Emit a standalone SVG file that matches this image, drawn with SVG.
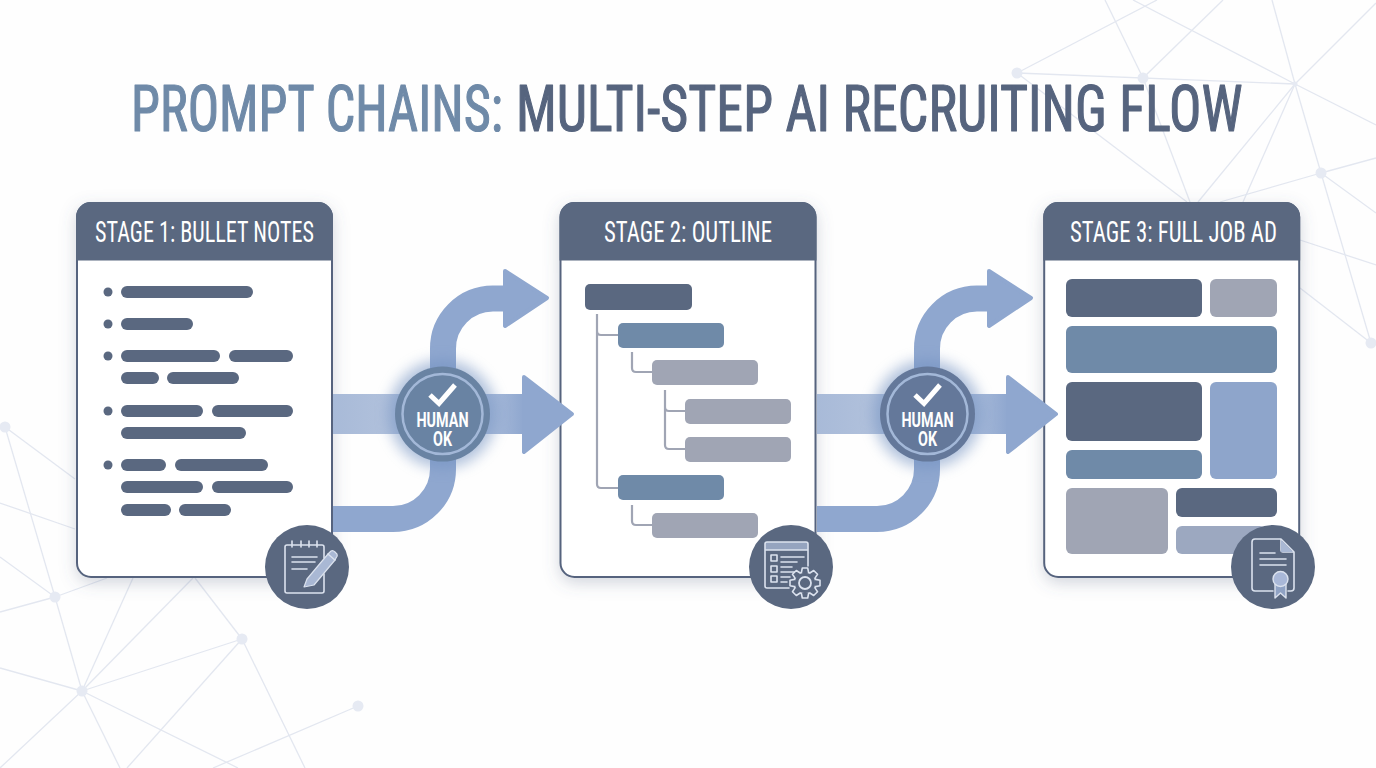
<svg xmlns="http://www.w3.org/2000/svg" width="1376" height="768" viewBox="0 0 1376 768">
<style>
.net line{stroke:#e3e7f0;stroke-width:1.3}
.net circle{fill:#e6eaf3}
.title{font-family:"Liberation Sans Narrow","Roboto Condensed",Roboto,"Liberation Sans",sans-serif;font-size:64px;font-weight:400;stroke-width:1.2;stroke-linejoin:round}
.hd{font-family:"Liberation Sans Narrow","Roboto Condensed",Roboto,"Liberation Sans",sans-serif;font-size:29px;fill:#fff;text-anchor:middle}
.ok{font-family:"Liberation Sans Narrow",Roboto,"Liberation Sans",sans-serif;font-size:21px;font-weight:700;fill:#fff;text-anchor:middle}
.body{fill:#fff;stroke:#56647e;stroke-width:2}
.head{fill:#5a6880}
.d{fill:#5a6880}.b{fill:#6f8aa8}.g{fill:#a0a5b4}.l{fill:#8ea5cb}
.tree{fill:none;stroke:#a0a5b4;stroke-width:2.2;stroke-linejoin:round}
.band{fill:none;stroke:#8fa7cf;stroke-width:26}
.head-a{fill:#8fa7cf;stroke:#8fa7cf;stroke-width:4;stroke-linejoin:round}
.ic{fill:none;stroke:#dbe2ee;stroke-width:1.6;stroke-linecap:round;stroke-linejoin:round}
.icl{fill:#a9b8d4}
.ring{fill:none;stroke:#a3b8d8;stroke-width:2.5}
.chk{fill:none;stroke:#fff;stroke-width:5}
.tooth{fill:#5a6880}
</style>
<defs>
<filter id="sh" x="-15%" y="-15%" width="130%" height="130%"><feDropShadow dx="0" dy="5" stdDeviation="8" flood-color="#56647e" flood-opacity=".26"/></filter>
<filter id="glow" x="-50%" y="-50%" width="200%" height="200%"><feGaussianBlur stdDeviation="7"/></filter>
<linearGradient id="fadeL"><stop offset="0" stop-color="#a8bad8"/><stop offset="1" stop-color="#b6c5de"/></linearGradient>
<linearGradient id="fadeR"><stop offset="0" stop-color="#b9c8e1"/><stop offset="1" stop-color="#8fa7cf"/></linearGradient>
<linearGradient id="fade3" x1="1176" y1="0" x2="1266" y2="0" gradientUnits="userSpaceOnUse"><stop offset="0" stop-color="#9ca8c0"/><stop offset="1" stop-color="#b4bfd6"/></linearGradient>
<g id="cardbase"><rect class="body" x="1" y="0" width="255" height="374" rx="14"/><path class="head" d="M0,57.500V14A15,15 0 0 1 15,-1H242A15,15 0 0 1 257,14V57.500Z"/></g>
<g id="flow">
<path class="band" d="M333,519H393A50,50 0 0 0 443,469V414"/>
<path class="band" d="M443,414V349A50,50 0 0 1 493,298.500H510"/>
<rect x="333" y="394" width="90" height="40" fill="url(#fadeL)"/>
<rect x="470" y="394" width="54" height="40" fill="url(#fadeR)"/>
<path class="head-a" d="M505,271L547,298L505,326Z"/>
<path class="head-a" d="M524,377L572,414L524,452Z"/>
</g>
<g id="human">
<circle r="40" class="ring"/>
<path class="chk" d="M-12.500,-19L-3.500,-10.500L12.500,-29"/>
<text class="ok"><tspan x="0" y="13" textLength="52" lengthAdjust="spacingAndGlyphs">HUMAN</tspan><tspan x="0" y="31.500" textLength="19" lengthAdjust="spacingAndGlyphs">OK</tspan></text>
</g>
<g id="tooth"><path class="tooth" d="M-3.600,-9.500L-2.700,-15H2.700L3.600,-9.500Z"/><path class="ic" d="M-3.600,-10.500L-2.700,-15H2.700L3.600,-10.500"/></g>
</defs>
<rect width="1376" height="768" fill="#fefefe"/>
<g id="background" class="net">
<line x1="1017" y1="73" x2="1157" y2="0"/><line x1="1017" y1="73" x2="1295" y2="84"/><line x1="1017" y1="73" x2="1187" y2="202"/>
<line x1="1105" y1="0" x2="1143" y2="78"/><line x1="1143" y1="78" x2="1190" y2="202"/><line x1="1143" y1="78" x2="1223" y2="0"/>
<line x1="1133" y1="0" x2="1295" y2="84"/><line x1="1295" y1="84" x2="1376" y2="125"/><line x1="1272" y1="0" x2="1295" y2="84"/><line x1="1295" y1="84" x2="1321" y2="173"/><line x1="1321" y1="173" x2="1371" y2="343"/>
<line x1="1376" y1="3" x2="1295" y2="84"/><line x1="1295" y1="84" x2="1198" y2="202"/><line x1="1295" y1="84" x2="1243" y2="202"/>
<line x1="1321" y1="173" x2="1220" y2="202"/><line x1="1321" y1="173" x2="1376" y2="158"/><line x1="1321" y1="173" x2="1376" y2="213"/>
<line x1="1300" y1="240" x2="1376" y2="265"/><line x1="1300" y1="288" x2="1371" y2="343"/>
<line x1="5" y1="427" x2="75" y2="479"/><line x1="5" y1="427" x2="55" y2="597"/><line x1="55" y1="597" x2="82" y2="691"/>
<line x1="0" y1="503" x2="75" y2="529"/><line x1="0" y1="557" x2="55" y2="597"/><line x1="0" y1="612" x2="55" y2="597"/><line x1="55" y1="597" x2="107" y2="578"/>
<line x1="82" y1="691" x2="133" y2="578"/><line x1="82" y1="691" x2="193" y2="578"/><line x1="82" y1="691" x2="242" y2="639"/><line x1="0" y1="668" x2="82" y2="691"/>
<line x1="82" y1="691" x2="0" y2="768"/><line x1="82" y1="691" x2="120" y2="768"/><line x1="82" y1="691" x2="238" y2="768"/>
<line x1="242" y1="639" x2="127" y2="768"/><line x1="242" y1="639" x2="195" y2="578"/><line x1="242" y1="639" x2="305" y2="768"/><line x1="358" y1="706" x2="213" y2="768"/>
<circle cx="1017" cy="73" r="5.500"/><circle cx="1143" cy="78" r="5.500"/><circle cx="1295" cy="84" r="2.500"/><circle cx="1321" cy="173" r="5.500"/><circle cx="1371" cy="343" r="5.500"/>
<circle cx="5" cy="427" r="5.500"/><circle cx="55" cy="597" r="5.500"/><circle cx="82" cy="691" r="5.500"/><circle cx="242" cy="639" r="5.500"/><circle cx="358" cy="706" r="5.500"/>
</g>
<g id="title">
<text class="title" transform="translate(131,131) scale(.8165,1)" fill="#6f8aa8" stroke="#6f8aa8">PROMPT CHAINS:</text>
<text class="title" transform="translate(516,131) scale(.8427,1)" fill="#56647e" stroke="#56647e">MULTI-STEP AI RECRUITING FLOW</text>
</g>
<g id="stage1" transform="translate(76,203)">
<g filter="url(#sh)"><use href="#cardbase"/></g>
<text class="hd" x="128.500" y="39" textLength="219" lengthAdjust="spacingAndGlyphs">STAGE 1: BULLET NOTES</text>
<g class="d">
<circle cx="32" cy="89" r="4.500"/><circle cx="32" cy="121" r="4.500"/><circle cx="32" cy="153" r="4.500"/><circle cx="32" cy="208" r="4.500"/><circle cx="32" cy="262" r="4.500"/>
<rect x="45" y="83" width="132" height="12" rx="6"/><rect x="45" y="115" width="72" height="12" rx="6"/>
<rect x="45" y="147" width="99" height="12" rx="6"/><rect x="153" y="147" width="64" height="12" rx="6"/>
<rect x="45" y="169" width="38" height="12" rx="6"/><rect x="91" y="169" width="72" height="12" rx="6"/>
<rect x="45" y="202" width="82" height="12" rx="6"/><rect x="136" y="202" width="81" height="12" rx="6"/>
<rect x="45" y="224" width="125" height="12" rx="6"/>
<rect x="45" y="256" width="45" height="12" rx="6"/><rect x="99" y="256" width="93" height="12" rx="6"/>
<rect x="45" y="278" width="82" height="12" rx="6"/><rect x="136" y="278" width="81" height="12" rx="6"/>
<rect x="45" y="301" width="50" height="12" rx="6"/><rect x="103" y="301" width="52" height="12" rx="6"/>
</g>
</g>
<g id="stage2" transform="translate(560,203)">
<g filter="url(#sh)"><use href="#cardbase" x="-0.500"/></g>
<text class="hd" x="128" y="39" textLength="168" lengthAdjust="spacingAndGlyphs">STAGE 2: OUTLINE</text>
<path class="tree" d="M37,111V281Q37,285 41,285H58M37,128Q37,132 41,132H58M72,149V165Q72,169 76,169H92M105,187V242Q105,246 109,246H125M105,204Q105,208 109,208H125M72,302V318Q72,322 76,322H92"/>
<rect class="d" x="25" y="81" width="107" height="26" rx="5"/>
<rect class="b" x="58" y="120" width="106" height="25" rx="5"/>
<rect class="g" x="92" y="157" width="106" height="25" rx="5"/>
<rect class="g" x="125" y="196" width="106" height="25" rx="5"/>
<rect class="g" x="125" y="234" width="106" height="25" rx="5"/>
<rect class="b" x="58" y="272" width="106" height="25" rx="5"/>
<rect class="g" x="92" y="310" width="106" height="25" rx="5"/>
</g>
<g id="stage3" transform="translate(1044,203)">
<g filter="url(#sh)"><use href="#cardbase" x="-0.800"/></g>
<text class="hd" x="129.500" y="39" textLength="207" lengthAdjust="spacingAndGlyphs">STAGE 3: FULL JOB AD</text>
<rect class="d" x="22" y="76" width="136" height="38" rx="6"/>
<rect class="g" x="166" y="76" width="67" height="38" rx="6"/>
<rect class="b" x="22" y="123" width="211" height="47" rx="6"/>
<rect class="d" x="22" y="179" width="136" height="59" rx="6"/>
<rect class="l" x="166" y="179" width="67" height="97" rx="6"/>
<rect class="b" x="22" y="247" width="136" height="29" rx="6"/>
<rect class="g" x="22" y="285" width="102" height="66" rx="6"/>
<rect class="d" x="132" y="285" width="101" height="29" rx="6"/>
<rect x="132" y="323" width="90" height="28" rx="6" fill="url(#fade3)"/>
</g>
<g id="connectors">
<use href="#flow"/>
<use href="#flow" x="484"/>
</g>
<g id="gate1" transform="translate(442.500,414)">
<circle r="54" fill="#6f8fc0" opacity=".55" filter="url(#glow)"/>
<circle r="47.500" fill="#6983a3"/>
<use href="#human"/>
</g>
<g id="gate2" transform="translate(927.500,414)">
<circle r="54" fill="#6f8fc0" opacity=".55" filter="url(#glow)"/>
<circle r="47.500" fill="#64789a"/>
<use href="#human"/>
</g>
<g id="icon-notes" transform="translate(307,567)">
<circle r="42" fill="#5a6880"/>
<path class="ic" d="M17,-9V-20A2,2 0 0 0 15,-22H-20A2,2 0 0 0 -22,-20V24A2,2 0 0 0 -20,26H15A2,2 0 0 0 17,24V7M-15,-26V-20M-6,-26V-20M2,-26V-20M10,-26V-20M-15,-10H10M-15,-5H8M-15,2H0"/>
<path class="icl" d="M-3,20L0,12L21,-13L28,-7L7,18Z" stroke="#dbe2ee" stroke-width="1.200" stroke-linejoin="round"/>
<path d="M21,-13L24,-16Q26,-17 28,-15L30,-13Q31,-11 29,-9L28,-7Z" fill="#a9b8d4" stroke="#dbe2ee" stroke-width="1.200"/>
</g>
<g id="icon-outline" transform="translate(791,567)">
<circle r="42" fill="#5a6880"/>
<path d="M-26,-25H17V-17H-26Z" fill="#a9b8d4" opacity=".75"/>
<path class="ic" d="M-2,21H-24A2,2 0 0 1 -26,19V-23A2,2 0 0 1 -24,-25H15A2,2 0 0 1 17,-23V-1M-26,-17H17"/>
<g class="ic"><rect x="-20" y="-12" width="6" height="6"/><rect x="-20" y="-1" width="6" height="6"/><rect x="-20" y="9" width="6" height="6"/></g>
<path class="ic" d="M-10,-10H13M-10,-5H6M-10,0H1M-10,5H5M-10,10H-1M-10,15H-4"/>
<g transform="translate(14,16)">
<circle r="11" fill="#5a6880" stroke="#dbe2ee" stroke-width="1.600"/>
<use href="#tooth"/><use href="#tooth" transform="rotate(45)"/><use href="#tooth" transform="rotate(90)"/><use href="#tooth" transform="rotate(135)"/><use href="#tooth" transform="rotate(180)"/><use href="#tooth" transform="rotate(225)"/><use href="#tooth" transform="rotate(270)"/><use href="#tooth" transform="rotate(315)"/>
<circle r="6" fill="none" stroke="#dbe2ee" stroke-width="1.800"/>
</g>
</g>
<g id="icon-ad" transform="translate(1273,567)">
<circle r="42" fill="#5a6880"/>
<path class="ic" d="M0,24H-18A3,3 0 0 1 -21,21V-25A3,3 0 0 1 -18,-28H8L21,-15V21A3,3 0 0 1 18,24H15M8,-28V-17A2,2 0 0 0 10,-15H21M-13,-14H2M-13,-8H13M-13,-2H13"/>
<path d="M8,-27V-15H20Z" fill="#a9b8d4"/>
<path d="M2,14V31L7.500,26L13,31V14" fill="#8fa2c4" stroke="#dbe2ee" stroke-width="1.400" stroke-linejoin="round"/>
<circle cx="7.500" cy="12" r="7.500" fill="#a9b8d8" stroke="#dbe2ee" stroke-width="1.400"/>
</g>
</svg>
